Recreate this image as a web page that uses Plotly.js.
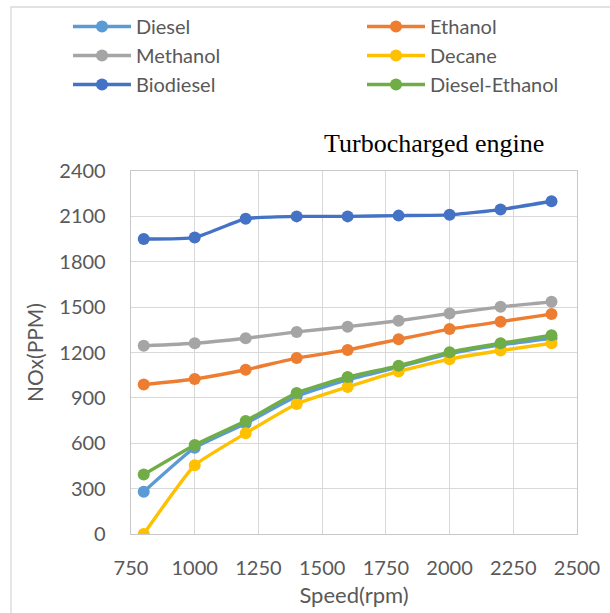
<!DOCTYPE html>
<html>
<head>
<meta charset="utf-8">
<script src="https://cdn.plot.ly/plotly-3.0.1.min.js"></script>
<style>html,body{margin:0;padding:0;background:#fff;}#chart{width:610px;height:613px;}</style>
</head>
<body>
<div id="chart"></div>
<script>
const speed = [800, 1000, 1200, 1400, 1600, 1800, 2000, 2200, 2400];
const diesel = [280, 571, 731, 911, 1020, 1104, 1191, 1250, 1294];
const ethanol = [988, 1025, 1086, 1163, 1217, 1287, 1355, 1404, 1454];
const methanol = [1244, 1261, 1294, 1336, 1371, 1410, 1458, 1502, 1535];
const decane = [0, 455, 666, 860, 972, 1075, 1156, 1213, 1261];
const biodiesel = [1950, 1960, 2085, 2100, 2100, 2105, 2110, 2145, 2200];
const dieselEthanol = [394, 589, 747, 933, 1038, 1112, 1202, 1261, 1314];
const xTicks = [750, 1000, 1250, 1500, 1750, 2000, 2250, 2500];
const yTicks = [0, 300, 600, 900, 1200, 1500, 1800, 2100, 2400];

const seriesNames = ['Diesel', 'Ethanol', 'Methanol', 'Decane', 'Biodiesel', 'Diesel-Ethanol'];
const seriesData = [diesel, ethanol, methanol, decane, biodiesel, dieselEthanol];
const colors = ['#5B9BD5', '#ED7D31', '#A5A5A5', '#FFC000', '#4472C4', '#70AD47'];
const legendIds = ['legend', 'legend2', 'legend', 'legend2', 'legend', 'legend2'];

const traces = seriesNames.map((n, i) => ({
  x: speed, y: seriesData[i], name: n, type: 'scatter', mode: 'lines+markers',
  legend: legendIds[i],
  line: {color: colors[i], width: 3.4, shape: 'spline', smoothing: 0.4},
  marker: {color: colors[i], size: 12}
}));

const font = 'Lato, "Open Sans", sans-serif';
const L = 131, R = 577, T = 171, B = 534;
const px2x = (p) => (p - L) / (R - L);
const px2y = (p) => (B - p) / (B - T);
const legendBase = {
  orientation: 'v', xref: 'paper', yref: 'paper',
  xanchor: 'left', yanchor: 'top', itemwidth: 58, tracegroupgap: 0,
  font: {family: font, size: 20, color: '#595959'}, bgcolor: 'rgba(0,0,0,0)'
};
const layout = {
  width: 610, height: 613,
  margin: {l: L, r: 610 - R, t: T, b: 613 - B, autoexpand: false},
  paper_bgcolor: '#fff', plot_bgcolor: '#fff',
  font: {family: font, color: '#595959', size: 20},
  showlegend: true,
  legend: Object.assign({}, legendBase, {x: px2x(68), y: px2y(7)}),
  legend2: Object.assign({}, legendBase, {x: px2x(362), y: px2y(7)}),
  xaxis: {
    range: [750, 2500], tickvals: xTicks, ticktext: xTicks.map(String),
    showgrid: true, gridcolor: '#d9d9d9', gridwidth: 1,
    showline: true, linecolor: '#c8c8c8', linewidth: 1.3, mirror: true,
    zeroline: false, ticks: '', ticklabelstandoff: 16, tickfont: {size: 20},
    automargin: false,
    title: {text: 'Speed(rpm)', font: {size: 22, color: '#595959'}, standoff: 9}
  },
  yaxis: {
    range: [0, 2400], tickvals: yTicks, ticktext: yTicks.map(String),
    showgrid: true, gridcolor: '#d9d9d9', gridwidth: 1,
    showline: true, linecolor: '#c8c8c8', linewidth: 1.3, mirror: true,
    zeroline: false, ticks: '', ticklabelstandoff: 20, tickfont: {size: 20},
    automargin: false,
    title: {text: 'NOx(PPM)', font: {size: 21, color: '#595959'}, standoff: 10}
  },
  annotations: [{
    text: 'Turbocharged engine', xref: 'paper', yref: 'paper',
    x: px2x(434), y: px2y(143), xanchor: 'center', yanchor: 'middle', showarrow: false,
    font: {family: '"Liberation Serif", "Times New Roman", serif', size: 26, color: '#000'}
  }],
  shapes: [{
    type: 'rect', xref: 'paper', yref: 'paper',
    x0: px2x(11), x1: px2x(660), y0: px2y(660), y1: px2y(7),
    line: {color: '#d9d9d9', width: 1.3}, layer: 'below'
  }]
};

Plotly.newPlot('chart', traces, layout, {displayModeBar: false, staticPlot: true});
</script>
</body>
</html>
